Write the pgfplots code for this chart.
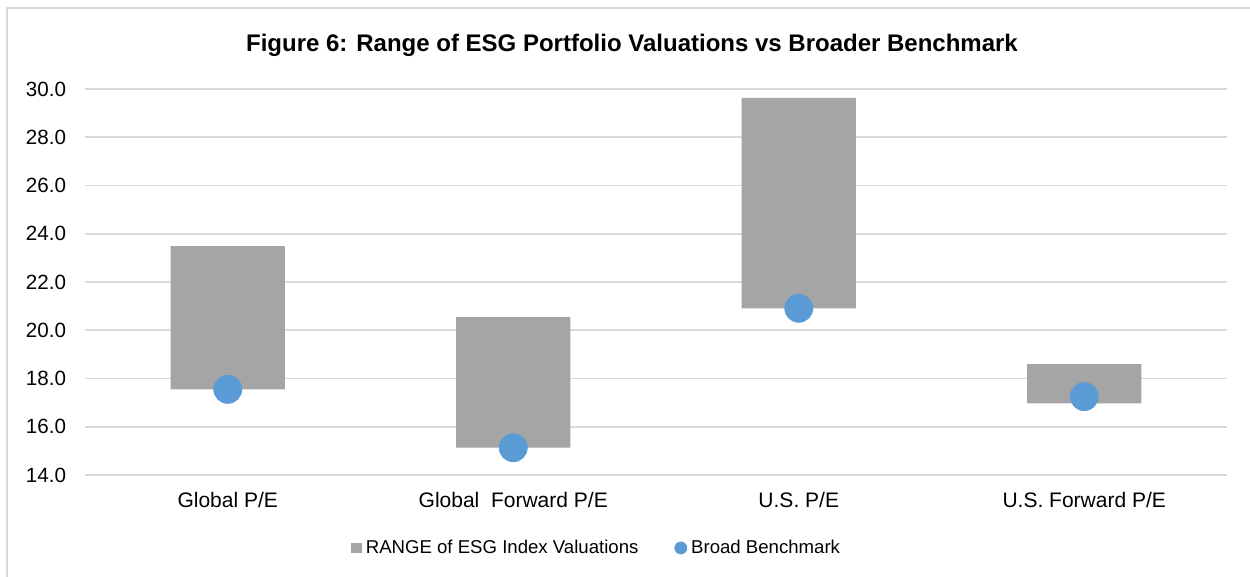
\documentclass[border=0pt]{standalone}
\usepackage{pgfplots}
\pgfplotsset{compat=1.18}
\usepackage{fontspec}
\setmainfont{Liberation Sans}
\definecolor{bargray}{HTML}{A5A5A5}
\definecolor{dotblue}{HTML}{5B9BD5}
\definecolor{gridgray}{HTML}{D9D9D9}
\begin{document}
\begin{tikzpicture}
\path[use as bounding box] (0bp,0bp) rectangle (625bp,288.5bp);
\draw[gridgray, line width=1.2bp] (3.5bp,0bp) -- (3.5bp,284.5bp) -- (625bp,284.5bp);
\node[font=\fontsize{12bp}{14bp}\selectfont\bfseries] at (316bp,266bp) {Figure 6: Range of ESG Portfolio Valuations vs Broader Benchmark};
\begin{axis}[
  at={(42.5bp,51bp)}, anchor=south west,
  scale only axis, width=571bp, height=193bp,
  xmin=-0.5, xmax=3.5, ymin=14, ymax=30,
  ytick={14,16,...,30},
  xtick={0,1,2,3},
  xticklabels={Global P/E, Global\ \ Forward P/E, U.S. P/E, U.S. Forward P/E},
  axis line style={draw=none},
  major tick length=0pt,
  ymajorgrids, grid style={gridgray, line width=0.8bp},
  /pgf/number format/assume math mode=true,
  yticklabel style={font=\fontsize{10.3bp}{12bp}\selectfont, /pgf/number format/fixed, /pgf/number format/fixed zerofill, /pgf/number format/precision=1, xshift=-6bp},
  xticklabel style={font=\fontsize{10.5bp}{12bp}\selectfont, yshift=-5bp},
  ybar stacked, bar width=0.4,
  legend columns=2,
  legend style={at={(0.449,-0.189)}, anchor=center, draw=none, fill=none,
    font=\fontsize{9.3bp}{11bp}\selectfont,
    /tikz/every even column/.append style={column sep=16bp}},
]
\addplot[draw=none, fill=none, forget plot] coordinates {(0,17.55) (1,15.13) (2,20.91) (3,16.97)};
\addplot[draw=none, fill=bargray, legend image code/.code={\fill[bargray] (0bp,-2.6bp) rectangle (5.2bp,2.6bp);}] coordinates {(0,5.94) (1,5.41) (2,8.72) (3,1.63)};
\addlegendentry{RANGE of ESG Index Valuations}
\addplot[stack plots=false, color=dotblue, only marks, mark=*, mark size=7bp, mark options={draw=dotblue, fill=dotblue}, legend image code/.code={\fill[dotblue] (2.6bp,0bp) circle (3bp);}] coordinates {(0,17.55) (1,15.13) (2,20.91) (3,17.25)};
\addlegendentry{Broad Benchmark}
\end{axis}
\end{tikzpicture}
\end{document}
